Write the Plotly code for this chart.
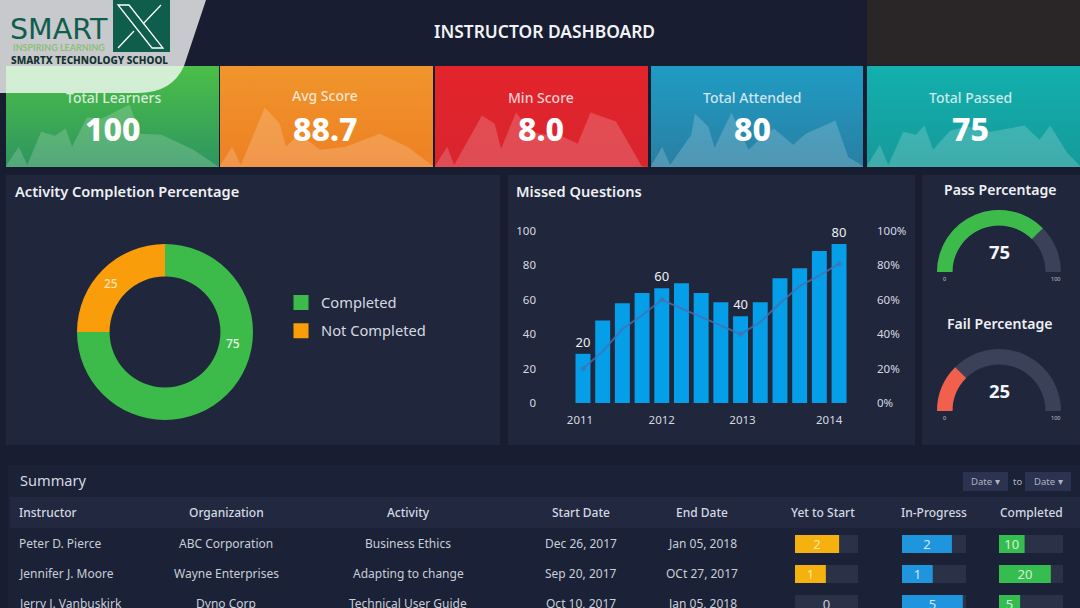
import plotly.graph_objects as go

# ---------- data ----------
card_titles = ["Total Learners", "Avg Score", "Min Score", "Total Attended", "Total Passed"]
card_values = ["100", "88.7", "8.0", "80", "75"]
spark1_x = [0, 6, 10, 16.5, 23, 28, 31, 38, 45, 58, 63, 73, 88, 100]
spark1_y = [1, 20, 2, 35, 31, 38, 20, 49, 48, 62, 33, 32, 17, 0]
spark2_x = [0, 5.7, 9.8, 21, 28, 31, 37, 47, 59, 75, 88, 100]
spark2_y = [1, 20, 2, 59, 43, 20, 33, 17, 20, 33, 20, 1]
spark3_x = [0, 5.7, 9, 22, 28, 31, 38, 45, 49, 60, 67, 73, 85, 97, 100]
spark3_y = [1, 20, 2, 51, 43, 18, 54, 36, 33, 30, 23, 54, 45, 1, 0]
spark4_x = [0, 5.3, 9, 19, 20.7, 27, 30, 38, 46, 51, 58, 67, 73, 87, 93, 100]
spark4_y = [1, 20, 2, 32, 53, 40, 19, 54, 17, 27, 38, 22, 33, 46, 10, 1]
spark5_x = [0, 6, 10, 17, 23, 27, 31, 39, 47, 58, 74, 81, 86, 94, 100]
spark5_y = [1, 22, 2, 35, 32, 41, 17, 36, 40, 35, 41, 27, 41, 14, 1]

activity_labels = ["Completed", "Not Completed"]
activity_values = [75, 25]

missed_bars = [28.6, 48, 58, 64, 66.7, 69.6, 64, 58.6, 50.5, 58.6, 72.5, 78.3, 88.4, 92.5]
missed_line = [20, 30, 43, 51, 60, 55, 50, 45, 40, 47, 58, 68, 74, 81]
missed_labels = ["20", "", "", "", "60", "", "", "", "40", "", "", "", "", "80"]
left_ticks = [0, 20, 40, 60, 80, 100]
right_ticks = ["0%", "20%", "40%", "60%", "80%", "100%"]
year_labels = ["2011", "2012", "2013", "2014"]

pass_pct = 75
fail_pct = 25

headers = ["Instructor", "Organization", "Activity", "Start Date", "End Date",
           "Yet to Start", "In-Progress", "Completed"]
instructors = ["Peter D. Pierce", "Jennifer J. Moore", "Jerry J. Vanbuskirk"]
organizations = ["ABC Corporation", "Wayne Enterprises", "Dyno Corp"]
activities = ["Business Ethics", "Adapting to change", "Technical User Guide"]
start_dates = ["Dec 26, 2017", "Sep 20, 2017", "Oct 10, 2017"]
end_dates = ["Jan 05, 2018", "OCt 27, 2017", "Jan 05, 2018"]
yet_values = [2, 1, 0]
yet_fill = [70, 49, 0]
progress_values = [2, 1, 5]
progress_fill = [78, 48, 95]
completed_values = [10, 20, 5]
completed_fill = [40, 81, 33]

# ---------- layout helpers ----------
W, H = 1080, 608
FONT = "Noto Sans"
PAGE = "#181d31"
PANEL = "#20263b"
TRACK = "#2b3248"


def dx(a, b):
    return [a / W, b / W]


def dy(top, bottom):
    return [1 - bottom / H, 1 - top / H]


fig = go.Figure()
layout = dict(
    width=W, height=H, margin=dict(l=0, r=0, t=0, b=0, autoexpand=False),
    paper_bgcolor=PAGE, plot_bgcolor="rgba(0,0,0,0)",
    font=dict(family=FONT, color="#d5d9e2"),
    barmode="overlay", showlegend=True,
    xaxis=dict(domain=[0, 1], range=[0, W], visible=False, fixedrange=True),
    yaxis=dict(domain=[0, 1], range=[H, 0], visible=False, fixedrange=True),
    legend=dict(x=281 / W, y=1 - 286.5 / H, xanchor="left", yanchor="top",
                bgcolor="rgba(0,0,0,0)", font=dict(size=14.7, color="#d5d9e2"),
                tracegroupgap=6, itemwidth=30),
)
shapes, notes = [], []


def note(x, y, text, size=13, color="#d5d9e2", weight=400, anchor="center", family=FONT):
    notes.append(dict(x=x, y=y, xref="x", yref="y", text=text, showarrow=False, xanchor=anchor,
                      yanchor="middle", borderpad=0, borderwidth=0,
                      font=dict(size=size, color=color, weight=weight, family=family)))


def rect(x0, y0, x1, y1, color, layer="below"):
    shapes.append(dict(type="rect", xref="x", yref="y", x0=x0, y0=y0, x1=x1, y1=y1,
                       fillcolor=color, line_width=0, layer=layer))


# ---------- page panels ----------
rect(867, 0, 1080, 65, "#2a2527")
rect(6, 175, 500, 445, PANEL)
rect(508, 175, 915, 445, PANEL)
rect(922, 175, 1080, 445, PANEL)
rect(8, 465, 1080, 608, "#1b2136")
rect(10, 497, 1080, 528, "#212840")
rect(963, 472, 1008, 491, "#2b3350")
rect(1025, 472, 1071, 491, "#2b3350")
note(544, 31, "INSTRUCTOR DASHBOARD", 17.4, "#f2f3f6", 600)

# ---------- legend entries ----------
legend_colors = ["#3dbb4a", "#f99d0b"]
for lab, col in zip(activity_labels, legend_colors):
    fig.add_trace(go.Scatter(x=[None], y=[None], mode="markers", name=lab, legendgroup=lab,
                             marker=dict(symbol="square", size=15, color=col),
                             xaxis="x", yaxis="y"))

# ---------- KPI cards ----------
card_boxes = [(6, 219), (220, 433), (435, 648), (651, 863), (867, 1080)]
card_grads = [("#2e9560", "#4bbf48"), ("#ee8024", "#f0952b"), ("#d9252f", "#e3242b"),
              ("#2a7fa3", "#1f9cc4"), ("#169a9a", "#12b0ae")]
sparks = [(spark1_x, spark1_y), (spark2_x, spark2_y), (spark3_x, spark3_y),
          (spark4_x, spark4_y), (spark5_x, spark5_y)]
title_rows = [97, 95, 97, 97, 97]
value_centres = [113, 325, 541, 752, 970]
for i, ((a, b), grad, (sx, sy)) in enumerate(zip(card_boxes, card_grads, sparks)):
    n = i + 2
    layout[f"xaxis{n}"] = dict(domain=dx(a, b), range=[0, 100], visible=False, fixedrange=True, anchor=f"y{n}")
    layout[f"yaxis{n}"] = dict(domain=dy(66, 167), range=[0, 100], visible=False, fixedrange=True, anchor=f"x{n}")
    fig.add_trace(go.Scatter(x=[0, 100], y=[100, 100], mode="none", fill="tozeroy", showlegend=False,
                             fillgradient=dict(type="vertical", colorscale=[[0, grad[0]], [1, grad[1]]],
                                               start=0, stop=100),
                             xaxis=f"x{n}", yaxis=f"y{n}", hoverinfo="skip"))
    fig.add_trace(go.Scatter(x=sx, y=sy, mode="none", fill="tozeroy", fillcolor="rgba(255,255,255,0.18)",
                             showlegend=False, xaxis=f"x{n}", yaxis=f"y{n}", hoverinfo="skip"))
    note(value_centres[i], title_rows[i], card_titles[i], 14, "rgba(255,255,255,0.78)", 500)
    note(value_centres[i], 128.5, card_values[i], 32, "#ffffff", 800)

# ---------- donut ----------
note(15, 191, "Activity Completion Percentage", 14.6, "#eef0f4", 600, "left")
fig.add_trace(go.Pie(labels=activity_labels, values=activity_values, hole=0.63, sort=False,
                     direction="clockwise", rotation=0, textinfo="none", showlegend=False,
                     marker=dict(colors=legend_colors, line=dict(width=0)),
                     domain=dict(x=dx(77, 253), y=dy(244, 420))))
note(233, 343, str(activity_values[0]), 12, "#e8f3e6", 500)
note(111, 283, str(activity_values[1]), 12, "#fde3ae", 500)

# ---------- missed questions ----------
note(516, 191, "Missed Questions", 14.6, "#eef0f4", 600, "left")
idx = list(range(len(missed_bars)))
layout["xaxis7"] = dict(domain=dx(543, 868), range=[-2.03, 14.47], anchor="y7", fixedrange=True,
                        tickvals=[-0.15, 4, 8.1, 12.5], ticktext=year_labels, showgrid=False, zeroline=False,
                        showline=False, ticks="", tickfont=dict(size=11.5, color="#d5d9e2"),
                        ticklabelstandoff=8)
layout["yaxis7"] = dict(domain=dy(231, 403), range=[0, 100], anchor="x7", fixedrange=True,
                        tickvals=left_ticks, showgrid=False, zeroline=False, showline=False, ticks="",
                        tickfont=dict(size=11.5, color="#d5d9e2"), ticklabelstandoff=6)
layout["yaxis8"] = dict(domain=dy(231, 403), range=[0, 100], anchor="x7", overlaying="y7", side="right",
                        fixedrange=True, tickvals=left_ticks, ticktext=right_ticks, showgrid=False,
                        zeroline=False, showline=False, ticks="", tickfont=dict(size=11.5, color="#d5d9e2"),
                        ticklabelstandoff=8)
fig.add_trace(go.Bar(x=idx, y=missed_bars, width=0.76, marker=dict(color="#049ee9", line_width=0),
                     text=missed_labels, textposition="outside", cliponaxis=False, showlegend=False,
                     textfont=dict(size=13, color="#eef0f4"), xaxis="x7", yaxis="y7"))
fig.add_trace(go.Scatter(x=idx, y=missed_line, mode="lines+markers", showlegend=False,
                         line=dict(color="rgba(74,110,176,0.8)", width=2),
                         marker=dict(color="rgba(74,110,176,0.9)", line_width=0,
                                     size=[5 if t else 0 for t in missed_labels]),
                         xaxis="x7", yaxis="y8"))

# ---------- gauges ----------
for val, col, title, top, bottom, ty, ny in [(pass_pct, "#3dbb4a", "Pass Percentage", 210, 272, 189, 251),
                                             (fail_pct, "#f0604d", "Fail Percentage", 349, 411, 323, 390)]:
    fig.add_trace(go.Indicator(mode="gauge", value=val, domain=dict(x=dx(937, 1061), y=dy(top, bottom)),
                               gauge=dict(axis=dict(range=[0, 100], visible=False),
                                          bar=dict(color=col, thickness=1, line_width=0),
                                          bgcolor="#3a4159", borderwidth=0)))
    note(1000, ty, title, 14.1, "#eef0f4", 600)
    note(999, ny, str(val), 18.5, "#f4f5f8", 700)
    note(944, bottom + 7, "0", 5.5, "#c8ccd6")
    note(1055, bottom + 7, "100", 5.5, "#c8ccd6")

# ---------- summary table ----------
note(20, 479.5, "Summary", 14.6, "#d5d9e2", 400, "left")
note(985.5, 481, "Date ▾", 9.5, "#aeb4c4")
note(1017, 481, "to", 9.5, "#aeb4c4")
note(1048, 481, "Date ▾", 9.5, "#aeb4c4")
col_x = [19, 226, 408, 581, 702, 823, 934, 1031]
for j, h in enumerate(headers):
    note(col_x[j], 512, h, 12, "#d5d9e2", 500, "left" if j == 0 else "center")
rows_y = [543, 573, 603]
for r, ry in enumerate(rows_y):
    note(col_x[0], ry, instructors[r], 12, "#c9ced8", 400, "left")
    note(col_x[1], ry, organizations[r], 12, "#c9ced8")
    note(col_x[2], ry, activities[r], 12, "#c9ced8")
    note(col_x[3], ry, start_dates[r], 12, "#c9ced8")
    note(col_x[4], ry, end_dates[r], 12, "#c9ced8")

layout["yaxis9"] = dict(domain=dy(529, 608), range=[2.133, -0.5], visible=False, fixedrange=True,
                        anchor="x9", type="category", categoryorder="array", categoryarray=instructors)
for n, (vals, fill, col, txt, (a, b)) in zip(
        [9, 10, 11],
        [(yet_values, yet_fill, "#f5b20f", "#fde6a8", (795, 858)),
         (progress_values, progress_fill, "#1f95de", "#cfe8fa", (902, 966)),
         (completed_values, completed_fill, "#35bd4f", "#d6f3da", (999, 1063))]):
    layout[f"xaxis{n}"] = dict(domain=dx(a, b), range=[0, 100], visible=False, fixedrange=True, anchor="y9")
    fig.add_trace(go.Bar(y=instructors, x=[100] * 3, orientation="h", width=0.6, showlegend=False,
                         marker=dict(color=TRACK, line_width=0),
                         text=["" if v else str(v) for v in vals], textposition="inside",
                         insidetextanchor="middle", textangle=0, constraintext="none",
                         textfont=dict(size=13, color="#c9ced8"),
                         xaxis=f"x{n}", yaxis="y9"))
    fig.add_trace(go.Bar(y=instructors, x=fill, orientation="h", width=0.6, showlegend=False,
                         marker=dict(color=col, line_width=0),
                         text=[str(v) if v else "" for v in vals], textposition="inside",
                         insidetextanchor="middle", textangle=0, constraintext="none",
                         textfont=dict(size=13, color=txt),
                         xaxis=f"x{n}", yaxis="y9"))

# ---------- logo overlay ----------
shapes.append(dict(type="path", xref="x", yref="y", layer="above", line_width=0,
                   fillcolor="rgba(255,255,255,0.76)",
                   path="M0,0 L206,0 L184,66 Q172,93 138,93 L0,93 Z"))
shapes.append(dict(type="rect", xref="x", yref="y", layer="above", x0=113, y0=0, x1=170, y1=52,
                   fillcolor="#0f5e4d", line_width=0))
shapes.append(dict(type="path", xref="x", yref="y", layer="above", line=dict(color="#ffffff", width=1.3),
                   path="M118,5 L129,5 L163,48 L152,48 Z"))
shapes.append(dict(type="path", xref="x", yref="y", layer="above", line=dict(color="#ffffff", width=1.3),
                   path="M161,5 L143,24 M134,31 L118,48"))
note(59, 29, "SMART", 28.5, "#0f5e4d", 400, family="DejaVu Sans")
note(59, 47.5, "INSPIRING LEARNING", 9, "#8dbf7a", 700, family="Lato")
note(89.5, 60, "SMARTX TECHNOLOGY SCHOOL", 10, "#12322f", 800)

layout["shapes"] = shapes
layout["annotations"] = notes
fig.update_layout(**layout)
fig.write_html("out.html", config=dict(displayModeBar=False),
               post_script="document.body.style.margin='0';document.body.style.overflow='hidden';")
